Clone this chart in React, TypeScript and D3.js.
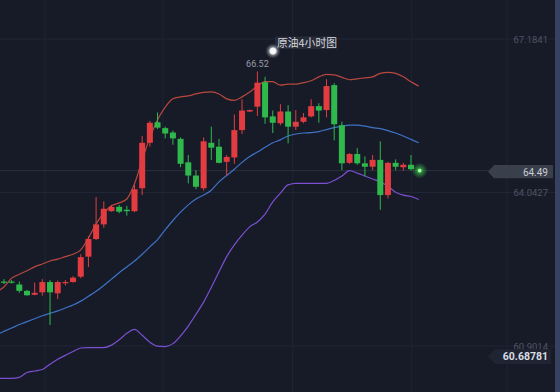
import React, { useEffect } from 'react';
import * as d3 from 'd3';

// candle index of the first entry in the OHLC arrays
const CANDLE_START = -2;
const opens = [62.22, 62.22, 62.16, 62.03, 61.95, 62.0, 62.21, 61.98, 62.19, 62.21, 62.32, 62.73, 63.09, 63.39, 63.66, 63.75, 63.69, 63.66, 64.13, 65.06, 65.48, 65.36, 65.27, 65.14, 64.66, 64.39, 64.13, 65.06, 64.98, 64.67, 64.76, 65.32, 65.7, 65.8, 66.3, 65.6, 65.46, 65.7, 65.39, 65.49, 65.6, 65.81, 65.73, 66.24, 65.42, 64.65, 64.83, 64.64, 64.57, 64.71, 63.99, 64.65, 64.56, 64.61];
const highs = [62.27, 62.25, 62.22, 62.05, 62.2, 62.27, 62.25, 62.24, 62.25, 62.33, 62.78, 63.15, 63.95, 63.86, 63.79, 63.79, 63.77, 64.2, 65.2, 65.51, 65.68, 65.39, 65.31, 65.17, 64.81, 64.5, 65.17, 65.39, 65.14, 64.81, 65.64, 65.95, 65.74, 66.52, 66.41, 65.72, 65.85, 65.83, 65.73, 65.67, 65.95, 65.87, 66.36, 66.28, 65.49, 64.85, 64.95, 64.78, 64.81, 65.09, 64.67, 64.72, 64.65, 64.81];
const lows = [62.17, 62.18, 61.99, 61.93, 61.94, 61.93, 61.33, 61.86, 62.14, 62.2, 62.29, 62.52, 63.07, 63.32, 63.65, 63.62, 63.57, 63.64, 63.99, 64.98, 65.34, 65.15, 65.02, 64.56, 64.23, 64.11, 64.08, 64.71, 64.64, 64.39, 64.63, 65.24, 65.69, 65.61, 65.45, 65.26, 65.42, 65.05, 65.32, 65.46, 65.58, 65.47, 65.58, 65.11, 64.5, 64.63, 64.61, 64.37, 64.5, 63.69, 63.92, 64.5, 64.49, 64.49];
const closes = [62.21, 62.21, 62.03, 61.94, 61.99, 62.21, 62.0, 62.21, 62.21, 62.3, 62.72, 63.09, 63.39, 63.71, 63.75, 63.65, 63.66, 64.11, 65.06, 65.47, 65.37, 65.25, 65.15, 64.63, 64.39, 64.16, 65.09, 64.96, 64.65, 64.77, 65.32, 65.72, 65.73, 66.29, 65.58, 65.47, 65.7, 65.39, 65.49, 65.58, 65.81, 65.72, 66.22, 65.44, 64.64, 64.83, 64.64, 64.57, 64.71, 63.99, 64.65, 64.57, 64.61, 64.52];

// Bollinger bands, candle index of first entry
const BAND_START = -3;
const upperBand = [62.01, 62.11, 62.29, 62.37, 62.44, 62.52, 62.58, 62.64, 62.68, 62.73, 62.78, 62.87, 63.11, 63.4, 63.62, 63.77, 63.83, 63.91, 64.22, 64.71, 65.16, 65.53, 65.79, 65.96, 66.0, 66.02, 66.06, 66.09, 66.1, 66.06, 65.96, 65.93, 66.0, 66.1, 66.22, 66.31, 66.31, 66.24, 66.26, 66.26, 66.29, 66.33, 66.41, 66.46, 66.45, 66.4, 66.35, 66.37, 66.39, 66.41, 66.48, 66.5, 66.48, 66.41, 66.31, 66.22];
const midBand = [61.13, 61.2, 61.27, 61.34, 61.4, 61.46, 61.52, 61.57, 61.62, 61.68, 61.74, 61.82, 61.92, 62.02, 62.14, 62.27, 62.4, 62.52, 62.64, 62.78, 62.93, 63.08, 63.28, 63.47, 63.64, 63.79, 63.91, 63.99, 64.09, 64.26, 64.39, 64.52, 64.66, 64.78, 64.87, 64.97, 65.06, 65.12, 65.2, 65.24, 65.26, 65.27, 65.29, 65.33, 65.37, 65.4, 65.42, 65.42, 65.4, 65.37, 65.35, 65.31, 65.26, 65.2, 65.13, 65.06];
const lowerBand = [60.24, 60.24, 60.24, 60.26, 60.36, 60.39, 60.42, 60.53, 60.63, 60.71, 60.79, 60.86, 60.87, 60.87, 60.87, 60.92, 61.03, 61.16, 61.24, 61.12, 60.98, 60.9, 60.89, 60.95, 61.11, 61.31, 61.55, 61.8, 62.1, 62.42, 62.73, 62.97, 63.17, 63.34, 63.44, 63.6, 63.85, 64.03, 64.2, 64.23, 64.23, 64.23, 64.23, 64.23, 64.29, 64.38, 64.49, 64.44, 64.38, 64.32, 64.26, 64.17, 64.05, 63.99, 63.96, 63.9];

const gridPrices = [67.1841, 64.0427, 60.9014];
const gridLabels = ['67.1841', '64.0427', '60.9014'];
const timeGrid = [3.35, 18.7, 35.6, 51.1, 63.5];
const lastPrice = 64.49;
const lastIndex = 52;
const lowTag = 60.68781;
const title = '原油4小时图';

const UP = '#e23c40';
const DOWN = '#2fb94c';
const FONT = 'Roboto, "DejaVu Sans", sans-serif';

export default function App() {
  useEffect(() => {
    document.body.style.margin = '0';
    document.body.style.background = '#171b28';
  }, []);

  const x = d3.scaleLinear().domain([0, 51]).range([19.3, 411]);
  const y = d3.scaleLinear().domain([60.9014, 67.1841]).range([346, 39]);

  const band = (vals: number[]) =>
    d3.line<number>()
      .x((_, k) => x(k + BAND_START))
      .y((v) => y(v))
      .curve(d3.curveMonotoneX)(vals) || '';

  const bodyW = 6;
  const peakIdx = highs.indexOf(d3.max(highs) as number);
  const peakX = x(peakIdx + CANDLE_START);

  const tagY = y(lastPrice);
  const lowY = y(lowTag);

  return (
    <svg width={560} height={392} style={{ position: 'fixed', left: 0, top: 0, display: 'block' }}>
      <defs>
        <radialGradient id="glow">
          <stop offset="0%" stopColor="#6bff6b" stopOpacity={0.9} />
          <stop offset="35%" stopColor="#3cd84a" stopOpacity={0.55} />
          <stop offset="100%" stopColor="#2fb94c" stopOpacity={0} />
        </radialGradient>
        <radialGradient id="halo">
          <stop offset="0%" stopColor="#ffffff" stopOpacity={1} />
          <stop offset="38%" stopColor="#f2f2f6" stopOpacity={1} />
          <stop offset="50%" stopColor="#8a8e98" stopOpacity={0.9} />
          <stop offset="75%" stopColor="#4a4e5a" stopOpacity={0.7} />
          <stop offset="100%" stopColor="#2a2e3a" stopOpacity={0} />
        </radialGradient>
      </defs>
      <rect width={560} height={392} fill="#171b28" />

      {/* grid */}
      {gridPrices.map((p) => (
        <line key={p} x1={0} x2={555} y1={y(p)} y2={y(p)} stroke="#212636" strokeWidth={1} />
      ))}
      {timeGrid.map((t) => (
        <line key={t} x1={x(t)} x2={x(t)} y1={0} y2={392} stroke="#1f2433" strokeWidth={1} />
      ))}
      <line x1={0} x2={490} y1={tagY} y2={tagY} stroke="#2a2f3e" strokeWidth={1} />

      {/* bollinger bands */}
      <path d={band(upperBand)} fill="none" stroke="#b8483e" strokeWidth={1.2} />
      <path d={band(midBand)} fill="none" stroke="#3f72c6" strokeWidth={1.2} />
      <path d={band(lowerBand)} fill="none" stroke="#7b4fd0" strokeWidth={1.2} />

      {/* candles */}
      {opens.map((o, k) => {
        const c = closes[k];
        const cx = x(k + CANDLE_START);
        const col = c > o ? UP : DOWN;
        const top = y(Math.max(o, c));
        const h = Math.max(1.2, y(Math.min(o, c)) - top);
        return (
          <g key={k}>
            <line x1={cx} x2={cx} y1={y(highs[k])} y2={y(lows[k])} stroke={col} strokeWidth={1} />
            <rect x={cx - bodyW / 2} y={top} width={bodyW} height={h} fill={col} />
          </g>
        );
      })}

      {/* peak label */}
      <text x={peakX} y={y(highs[peakIdx]) - 4} textAnchor="middle" fontFamily={FONT} fontSize={9} fill="#9a9ea8">
        {highs[peakIdx].toFixed(2)}
      </text>

      {/* current price glow */}
      <circle cx={x(lastIndex) + 1} cy={tagY} r={8} fill="url(#glow)" />
      <circle cx={x(lastIndex) + 1} cy={tagY} r={1.8} fill="#a8ffa0" />

      {/* title */}
      <rect x={275} y={36.5} width={59} height={12.5} fill="#2a2e3a" opacity={0.9} />
      <circle cx={273} cy={51} r={8} fill="url(#halo)" />
      <text x={277} y={46.8} fontFamily='"Noto Sans CJK SC", sans-serif' fontSize={10.8} fill="#d4d7de">
        {title}
      </text>

      {/* axis labels */}
      {gridPrices.map((p, k) => (
        <text key={p} x={548} y={y(p) + 3.5} textAnchor="end" fontFamily={FONT} fontSize={9.5} fill="#4e5462">
          {gridLabels[k]}
        </text>
      ))}

      {/* last price tag */}
      <path
        d={`M488,${tagY + 1} L494,${tagY - 5.7} L553,${tagY - 5.7} L553,${tagY + 7.7} L494,${tagY + 7.7} Z`}
        fill="#3a3f4c"
      />
      <text x={548} y={tagY + 5} textAnchor="end" fontFamily={FONT} fontSize={10} fill="#c9cdd5">
        {lastPrice.toFixed(2)}
      </text>

      {/* low tag */}
      <path
        d={`M488,${lowY} L495,${lowY - 7.5} L551,${lowY - 7.5} L551,${lowY + 7.5} L495,${lowY + 7.5} Z`}
        fill="#1f2433"
      />
      <text x={548} y={lowY + 4} textAnchor="end" fontFamily={FONT} fontSize={10.5} fontWeight="bold" fill="#dadde3">
        {lowTag.toFixed(5)}
      </text>

      {/* right edge */}
      <rect x={555} y={0} width={5} height={392} fill="#364260" />
    </svg>
  );
}
